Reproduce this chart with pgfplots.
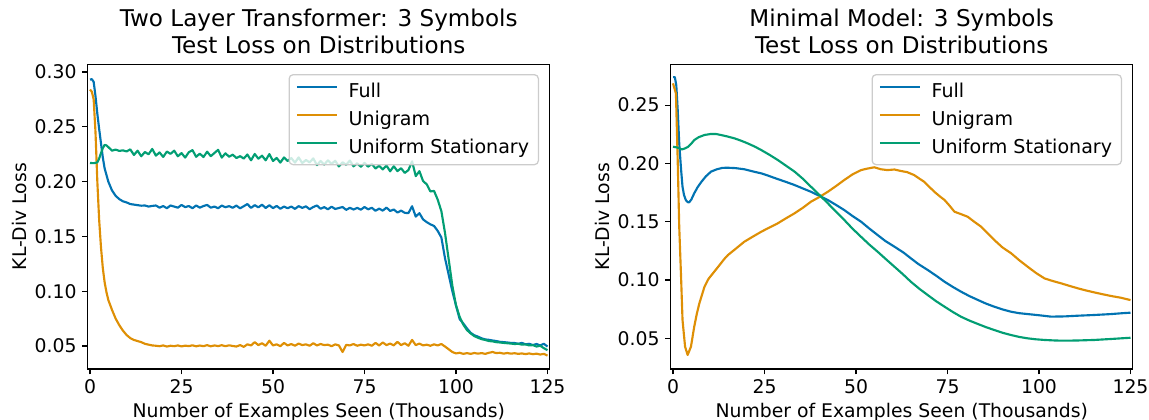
\documentclass[border=0pt]{standalone}
\usepackage{fontspec}
\setmainfont{DejaVu Sans}
\usepackage{pgfplots}
\pgfplotsset{compat=1.18}

\definecolor{cbblue}{HTML}{0173B2}
\definecolor{cborange}{HTML}{DE8F05}
\definecolor{cbgreen}{HTML}{029E73}
\definecolor{legframe}{HTML}{CCCCCC}

\pgfplotsset{
  lossaxis/.style={
    scale only axis, width=346.5pt, height=228.5pt,
    xmin=-0.63, xmax=125.6,
    xtick={0,25,50,75,100,125},
    tick align=outside, major tick length=4.1pt,
    xtick pos=bottom, ytick pos=left,
    every tick/.style={black, line width=0.94pt},
    axis line style={black, line width=0.94pt},
    font=\fontsize{14.1}{17}\selectfont,
    /pgf/number format/assume math mode=true,
    yticklabel style={anchor=east, inner sep=0pt, xshift=-4.1pt,
      /pgf/number format/fixed, /pgf/number format/fixed zerofill,
      /pgf/number format/precision=2},
    xticklabel style={anchor=base, inner sep=0pt, yshift=-14.6pt},
    xlabel={Number of Examples Seen (Thousands)},
    ylabel={KL-Div Loss},
    xlabel style={at={([yshift=-36.4pt]axis description cs:0.5,0)}, anchor=base, inner sep=0pt},
    ylabel style={at={([xshift=-45.75pt]axis description cs:0,0.5)}, anchor=base, inner sep=0pt},
    title style={at={([yshift=1.8pt]axis description cs:0.5,1)}, anchor=south, inner sep=0pt,
      align=center, font=\fontsize{17.3}{20}\selectfont},
    legend cell align=left,
    legend image code/.code={\draw[#1] (0pt,0.36em) -- (30pt,0.36em); \path (36pt,0.36em);},
    legend style={at={([xshift=-8pt,yshift=-7.3pt]axis description cs:1,1)}, anchor=north east,
      draw=legframe, line width=0.94pt, rounded corners=3pt,
      fill=white, fill opacity=0.8, text opacity=1,
      inner xsep=5pt, inner ysep=4.6pt, row sep=4.6pt,
      font=\fontsize{14.3}{17}\selectfont},
    every axis plot/.append style={line width=1.6pt, line join=round},
  }
}

\begin{document}
\begin{tikzpicture}
\path[use as bounding box] (-65.78pt,-38.25pt) rectangle (795.98pt,276.75pt);

% Two layer transformer
\begin{axis}[lossaxis, at={(0pt,0pt)}, anchor=south west,
  ymin=0.029, ymax=0.307, ytick={0.05,0.10,0.15,0.20,0.25,0.30},
  title={Two Layer Transformer: 3 Symbols\\Test Loss on Distributions}]
\addplot[cbblue] coordinates {
(0,0.293)(0.5,0.2935)(1,0.291)(1.5,0.278)(2,0.262)(2.5,0.248)(3,0.235)(3.5,0.222)(4,0.212)(5,0.200)
(6,0.192)(7,0.187)(8,0.184)(9,0.182)(10,0.181)(11,0.1795)(12,0.179)(13,0.1785)(14,0.178)(15,0.1782)
(16,0.1772)(17,0.1778)(18,0.1782)(19,0.1762)(20,0.1777)(21,0.1757)(22,0.1782)(23,0.1772)(24,0.1762)(25,0.1787)
(26,0.1767)(27,0.1777)(28,0.1757)(29,0.1782)(30,0.1762)(31,0.1777)(32,0.1787)(33,0.1762)(34,0.1772)(35,0.1757)
(36,0.1781)(37,0.1766)(38,0.1776)(39,0.1761)(40,0.1781)(41,0.1756)(42,0.1775)(43,0.1795)(44,0.1760)(45,0.1785)
(46,0.1765)(47,0.1789)(48,0.1759)(49,0.1784)(50,0.1758)(51,0.1778)(52,0.1752)(53,0.1772)(54,0.1757)(55,0.1772)
(56,0.1751)(57,0.1776)(58,0.1760)(59,0.1774)(60,0.1748)(61,0.1768)(62,0.1782)(63,0.1752)(64,0.1767)(65,0.1747)
(66,0.1771)(67,0.1750)(68,0.1759)(69,0.1768)(70,0.1742)(71,0.1761)(72,0.1745)(73,0.1760)(74,0.1744)(75,0.1768)
(76,0.1747)(77,0.1761)(78,0.1734)(79,0.1753)(80,0.1735)(81,0.1763)(82,0.1732)(83,0.1745)(84,0.1718)(85,0.1735)
(86,0.1715)(87,0.1712)(88,0.1775)(89,0.168)(90,0.1712)(91,0.1655)(92,0.163)(93,0.161)(94,0.1595)(95,0.155)
(96,0.149)(97,0.130)(98,0.115)(99,0.100)(100,0.087)(101,0.0745)(102,0.0705)(103,0.066)(104,0.062)(105,0.0598)
(106,0.0585)(107,0.057)(108,0.056)(109,0.0556)(110,0.055)(111,0.0545)(112,0.0538)(113,0.0535)(114,0.0532)(115,0.0528)
(116,0.0527)(117,0.052)(118,0.0528)(119,0.0515)(120,0.052)(121,0.0508)(122,0.0518)(123,0.0505)(124,0.052)(125,0.0495)
};
\addlegendentry{Full}
\addplot[cborange] coordinates {
(0,0.284)(0.5,0.282)(1,0.275)(1.5,0.245)(2,0.200)(2.5,0.165)(3,0.140)(3.5,0.121)(4,0.108)(4.5,0.099)
(5,0.092)(6,0.083)(7,0.075)(8,0.069)(9,0.064)(10,0.060)(11,0.0572)(12,0.0555)(13,0.0545)(14,0.0535)
(15,0.052)(16,0.0512)(17,0.0505)(18,0.0502)(19,0.0498)(20,0.0505)(21,0.0495)(22,0.0502)(23,0.0498)(24,0.0505)
(25,0.0496)(26,0.0503)(27,0.0499)(28,0.0506)(29,0.0497)(30,0.0504)(31,0.0498)(32,0.0508)(33,0.0497)(34,0.0505)
(35,0.0499)(36,0.0507)(37,0.0498)(38,0.0506)(39,0.05)(40,0.0495)(41,0.0508)(42,0.0492)(43,0.0515)(44,0.0505)
(45,0.0535)(46,0.0508)(47,0.0525)(48,0.0502)(49,0.0548)(50,0.0505)(51,0.0515)(52,0.0498)(53,0.0528)(54,0.0505)
(55,0.0518)(56,0.0502)(57,0.0522)(58,0.0508)(59,0.0515)(60,0.0502)(61,0.0525)(62,0.0505)(63,0.0518)(64,0.0508)
(65,0.0512)(66,0.0498)(67,0.0515)(68,0.0505)(69,0.0445)(70,0.051)(71,0.0505)(72,0.0518)(73,0.0502)(74,0.0512)
(75,0.0505)(76,0.0515)(77,0.0502)(78,0.0528)(79,0.0505)(80,0.0532)(81,0.0508)(82,0.0522)(83,0.0505)(84,0.0538)
(85,0.0508)(86,0.0525)(87,0.0502)(88,0.0555)(89,0.0508)(90,0.0522)(91,0.0505)(92,0.0512)(93,0.0502)(94,0.0515)
(95,0.0505)(96,0.0518)(97,0.0495)(98,0.047)(99,0.0445)(100,0.0432)(101,0.0438)(102,0.0428)(103,0.0435)(104,0.0428)
(105,0.0436)(106,0.043)(107,0.0435)(108,0.0428)(109,0.0438)(110,0.0445)(111,0.0435)(112,0.0438)(113,0.043)(114,0.0436)
(115,0.043)(116,0.0434)(117,0.0428)(118,0.0432)(119,0.0426)(120,0.0432)(121,0.0425)(122,0.043)(123,0.0422)(124,0.0428)
(125,0.0412)
};
\addlegendentry{Unigram}
\addplot[cbgreen] coordinates {
(0,0.217)(1,0.2168)(2,0.2175)(2.5,0.221)(3,0.226)(3.5,0.2305)(4,0.2335)(4.5,0.233)(5,0.2315)(6,0.2282)
(7,0.2292)(8,0.228)(9,0.2285)(10,0.2275)(11,0.2294)(12,0.2243)(13,0.2282)(14,0.2231)(15,0.2270)(16,0.2249)
(17,0.2298)(18,0.2237)(19,0.2266)(20,0.2225)(21,0.2274)(22,0.2253)(23,0.2282)(24,0.2231)(25,0.2260)(26,0.2219)
(27,0.2268)(28,0.2287)(29,0.2226)(30,0.2255)(31,0.2224)(32,0.2273)(33,0.2232)(34,0.2261)(35,0.2290)(36,0.2219)
(37,0.2258)(38,0.2227)(39,0.2246)(40,0.2215)(41,0.2232)(42,0.2210)(43,0.2247)(44,0.2194)(45,0.2252)(46,0.2209)
(47,0.2236)(48,0.2194)(49,0.2251)(50,0.2188)(51,0.2216)(52,0.2173)(53,0.2220)(54,0.2188)(55,0.2215)(56,0.2173)
(57,0.2221)(58,0.2169)(59,0.2197)(60,0.2175)(61,0.2212)(62,0.2150)(63,0.2188)(64,0.2156)(65,0.2194)(66,0.2162)
(67,0.2190)(68,0.2138)(69,0.2176)(70,0.2154)(71,0.2192)(72,0.2139)(73,0.2167)(74,0.2135)(75,0.2170)(76,0.2136)
(77,0.2162)(78,0.2119)(79,0.2145)(80,0.2111)(81,0.2147)(82,0.2094)(83,0.2140)(84,0.2096)(85,0.2122)(86,0.2079)
(87,0.2105)(88,0.2185)(89,0.205)(90,0.2095)(91,0.2005)(92,0.1975)(93,0.191)(94,0.1915)(95,0.1835)(96,0.173)
(97,0.153)(98,0.129)(99,0.105)(100,0.087)(101,0.0765)(102,0.0695)(103,0.0645)(104,0.0615)(105,0.059)(106,0.0575)
(107,0.0562)(108,0.0555)(109,0.0545)(110,0.0542)(111,0.0535)(112,0.0532)(113,0.0528)(114,0.0525)(115,0.0522)(116,0.0518)
(117,0.052)(118,0.0512)(119,0.0515)(120,0.0505)(121,0.0508)(122,0.0495)(123,0.0502)(124,0.048)(125,0.0462)
};
\addlegendentry{Uniform Stationary}
\end{axis}

% Minimal model
\begin{axis}[lossaxis, at={(437.25pt,0pt)}, anchor=south west,
  ymin=0.0237, ymax=0.285, ytick={0.05,0.10,0.15,0.20,0.25},
  title={Minimal Model: 3 Symbols\\Test Loss on Distributions}]
\addplot[cbblue] coordinates {
(0,0.274)(0.5,0.274)(0.9,0.267)(1.3,0.245)(1.7,0.217)(2.2,0.195)(2.6,0.180)(3.0,0.173)(3.5,0.1686)(4.0,0.1668)
(4.4,0.1666)(5.0,0.169)(5.8,0.1744)(6.7,0.1795)(7.7,0.184)(9,0.189)(10.4,0.193)(12,0.195)(13.5,0.1962)(15,0.1963)
(17,0.196)(19.5,0.195)(22,0.193)(24.1,0.1915)(26,0.1895)(28.6,0.1866)(31,0.184)(33.2,0.1815)(35.5,0.1785)(37.7,0.1757)
(40,0.1722)(42.3,0.1686)(44.5,0.1645)(46.8,0.160)(49,0.155)(51.4,0.150)(53.5,0.1445)(55.9,0.1386)(58,0.1335)(60.5,0.1286)
(63,0.1235)(65,0.1186)(67,0.1138)(69.6,0.1086)(72,0.1035)(74.2,0.0985)(76.5,0.094)(78.7,0.090)(81,0.0862)(83.3,0.0829)
(85.5,0.0798)(87.8,0.0771)(90,0.0748)(92.4,0.0728)(94.5,0.0716)(96.9,0.0708)(100,0.0698)(103.3,0.0686)(107,0.0688)(110.6,0.0694)
(115,0.0700)(119.7,0.0708)(123,0.0716)(125,0.072)
};
\addlegendentry{Full}
\addplot[cborange] coordinates {
(0,0.2687)(0.8,0.260)(1.28,0.203)(1.7,0.1457)(2.2,0.1028)(2.6,0.0657)(3.3,0.0428)(4.0,0.0357)(4.9,0.0428)(5.8,0.060)
(6.5,0.071)(7.2,0.080)(8.6,0.0943)(9.7,0.101)(10.9,0.1057)(12.5,0.112)(14,0.118)(15,0.1214)(17.2,0.127)(19.5,0.1329)
(21.8,0.1372)(24.1,0.1414)(26.3,0.145)(28.6,0.1486)(30.9,0.153)(33.2,0.1572)(35.5,0.162)(37.7,0.1672)(40,0.1712)(42.3,0.1757)
(44.5,0.1805)(46.8,0.1858)(49,0.1905)(51.4,0.1943)(53,0.1955)(55,0.1967)(56.8,0.195)(58.6,0.1943)(60.5,0.1948)(62.3,0.1935)
(64,0.1925)(65.9,0.190)(67.3,0.187)(68.6,0.1843)(70,0.180)(71.4,0.1757)(72.8,0.172)(74.2,0.1686)(75.5,0.164)(76.9,0.1586)
(78.7,0.1565)(80.5,0.1543)(82.3,0.150)(84.2,0.1457)(86,0.140)(87.8,0.1343)(90,0.128)(92.4,0.1229)(94.6,0.117)(96.9,0.1114)
(99.2,0.106)(101.5,0.1014)(103.7,0.0992)(106,0.0972)(108.3,0.095)(110.6,0.0929)(112.9,0.091)(115.1,0.0894)(117.4,0.0878)(119.7,0.0863)
(122.4,0.0848)(125,0.0828)
};
\addlegendentry{Unigram}
\addplot[cbgreen] coordinates {
(0,0.2143)(1,0.2138)(1.7,0.213)(2.4,0.212)(3.2,0.2128)(4,0.214)(5,0.217)(5.8,0.220)(7,0.2225)(8.6,0.2244)
(10.4,0.2253)(11.8,0.2252)(13.1,0.2244)(15,0.223)(16.8,0.2215)(18.6,0.2195)(20.4,0.2172)(22.3,0.2145)(24.1,0.2115)(26.3,0.2075)
(28.6,0.203)(30.9,0.198)(33.2,0.193)(35.5,0.1868)(37.7,0.180)(40,0.173)(42.3,0.1658)(44.5,0.1588)(46.8,0.1515)(49,0.1442)
(51.4,0.137)(53.6,0.1305)(55.9,0.1243)(58.2,0.1178)(60.5,0.1114)(62.8,0.105)(65,0.0985)(67.3,0.0925)(69.6,0.0871)(71.9,0.0818)
(74.2,0.0771)(76.5,0.0725)(78.7,0.0685)(81,0.0652)(83.3,0.0623)(85.5,0.0596)(87.8,0.0571)(90,0.0548)(92.4,0.0528)(94.6,0.0512)
(96.9,0.050)(99,0.0492)(101.5,0.0486)(104,0.0482)(106,0.048)(110,0.0481)(115.1,0.0486)(120,0.0495)(125,0.0505)
};
\addlegendentry{Uniform Stationary}
\end{axis}
\end{tikzpicture}
\end{document}
